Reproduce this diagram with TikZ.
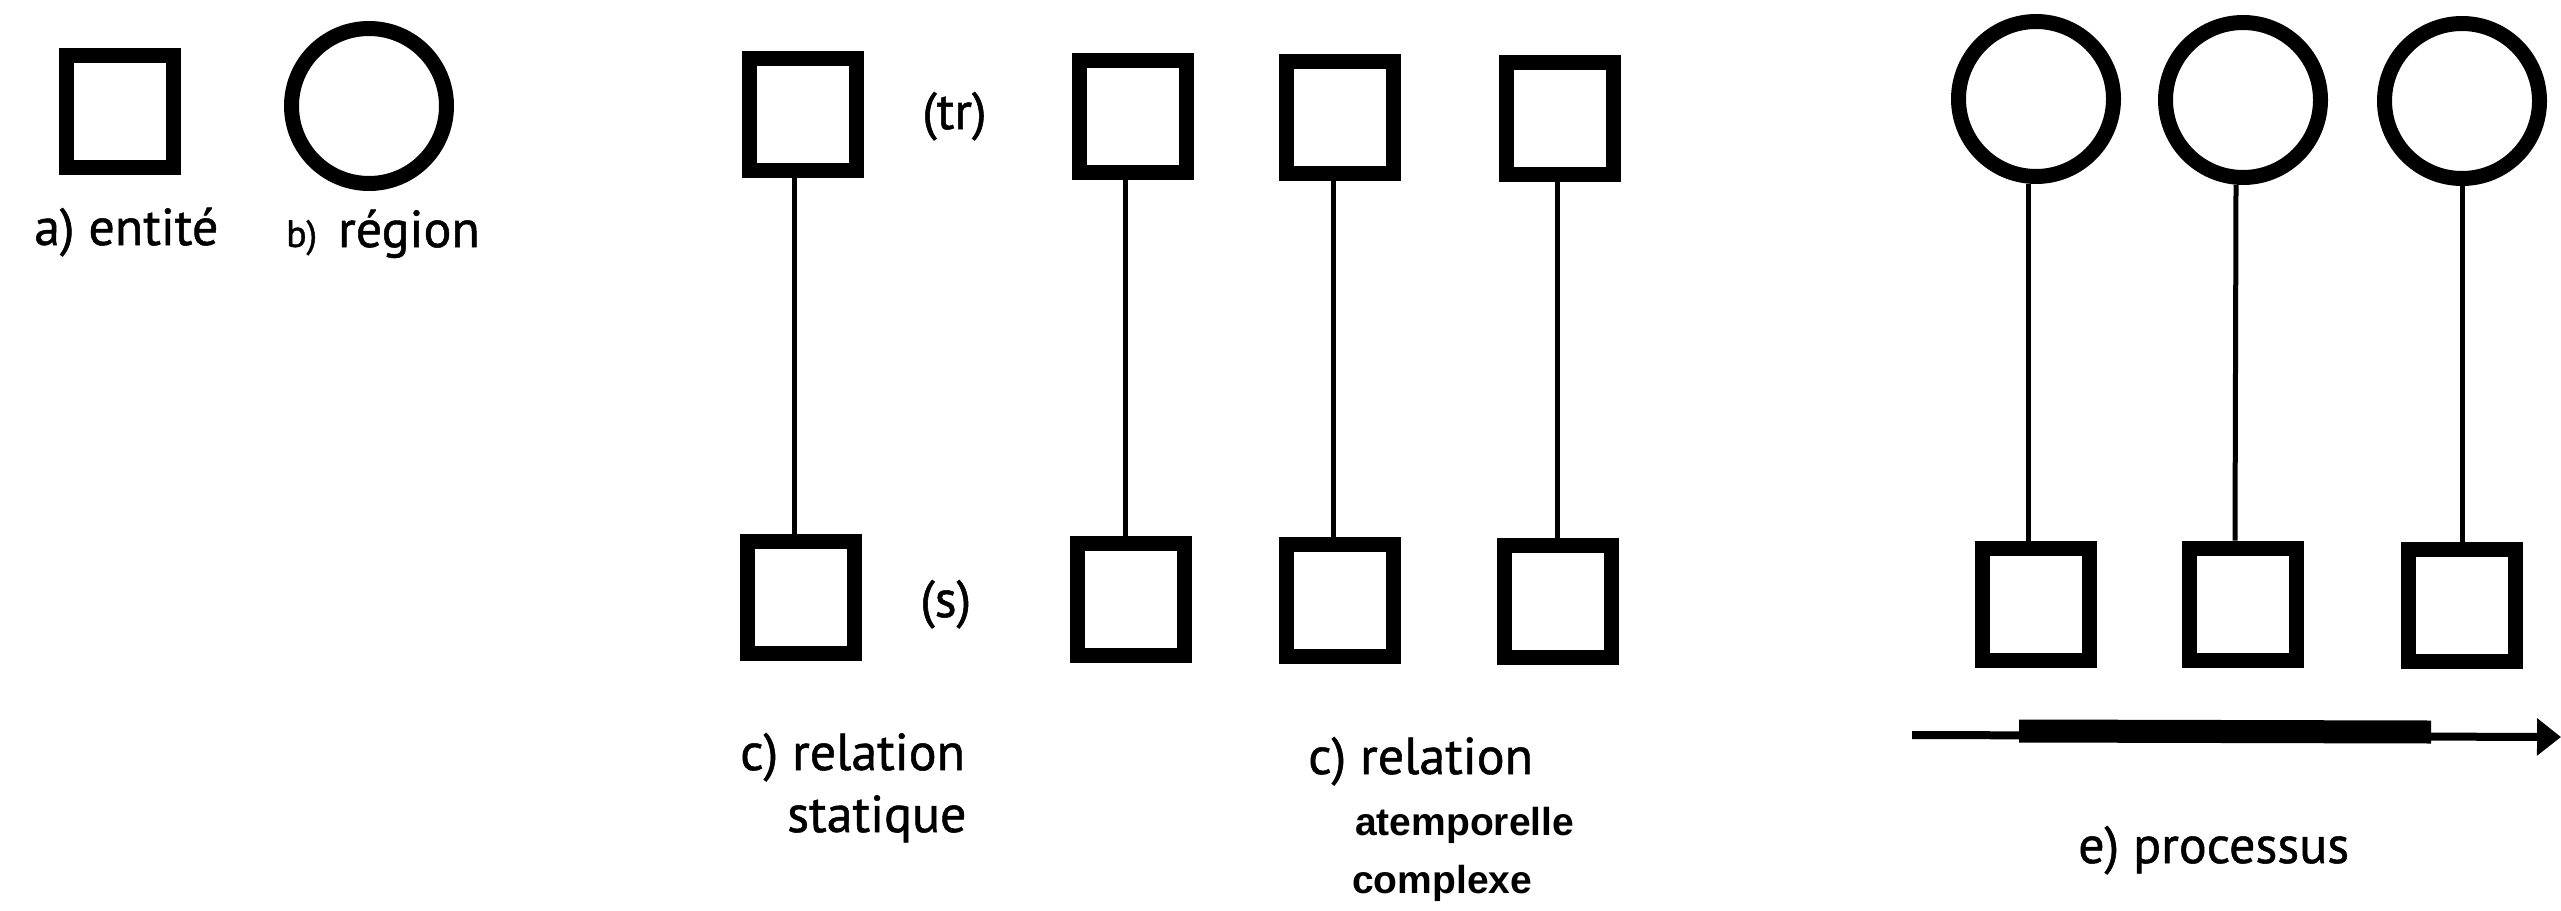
\documentclass[tikz,border=0pt]{standalone}
\usepackage{fontspec}
\setmainfont{PT Sans}
\newfontfamily\lab{PT Sans}[FakeBold=1]
\newfontfamily\helv{Liberation Sans}
\usetikzlibrary{arrows.meta}
\begin{document}
\begin{tikzpicture}[x=1pt,y=-1pt,
  ent/.style={draw,line width=15pt,minimum width=107pt,minimum height=112pt,inner sep=0pt},
  reg/.style={draw,circle,line width=15pt,minimum size=155pt,inner sep=0pt},
  link/.style={line width=5pt},
  lbl/.style={anchor=base west,inner sep=0pt,font=\lab\fontsize{52}{60}\selectfont},
  smallb/.style={anchor=base west,inner sep=0pt,font=\lab\fontsize{38}{44}\selectfont},
  sml/.style={anchor=base west,inner sep=0pt,font=\helv\bfseries\fontsize{39}{45}\selectfont}]
\useasboundingbox (0,0) rectangle (2561,910);

% a) entity, b) region
\node[ent] (a) at (120,111) {};
\node[reg] (b) at (369,106) {};
\node[lbl] (la) at (34,245) {a) entité};
\node[smallb] (lb1) at (286,247) {b)};
\node[lbl,anchor=base east] (lb2) at (480,247) {région};

% c) static relation
\node[ent] (c1t) at (803,114) {};
\node[ent] (c1b) at (801,597) {};
\draw[link] ([xshift=-9pt]c1t.south) -- ([xshift=-7pt]c1b.north);
\node[lbl] (tr) at (922,129) {(tr)};
\node[lbl] (s) at (920,617) {(s)};
\node[lbl] (lc1) at (740,770) {c) relation};
\node[lbl] (lc2) at (787,832) {statique};

% c) complex atemporal relation
\node[ent] (c2t) at (1133,116) {};
\node[ent] (c2b) at (1131,599) {};
\node[ent] (c3t) at (1340,117) {};
\node[ent] (c3b) at (1340,600) {};
\node[ent] (c4t) at (1560,118) {};
\node[ent] (c4b) at (1558,601) {};
\draw[link] ([xshift=-8pt]c2t.south) -- ([xshift=-6pt]c2b.north);
\draw[link] ([xshift=-7pt]c3t.south) -- ([xshift=-7pt]c3b.north);
\draw[link] ([xshift=-3pt]c4t.south) -- ([xshift=-1pt]c4b.north);
\node[lbl] (ld1) at (1308,774) {c) relation};
\node[sml] (ld2) at (1355,835) {atemporelle};
\node[sml] (ld3) at (1352,893) {complexe};

% e) process
\node[reg] (e1t) at (2036,99) {};
\node[reg] (e2t) at (2243,100) {};
\node[reg] (e3t) at (2462,101) {};
\node[ent] (e1b) at (2036,604) {};
\node[ent] (e2b) at (2243,604) {};
\node[ent] (e3b) at (2462,605) {};
\draw[link] ([xshift=-8pt]e1t.south) -- ([xshift=-8pt]e1b.north);
\draw[link] ([xshift=-7pt]e2t.south) -- ([xshift=-8pt]e2b.north);
\draw[link] (e3t.south) -- (e3b.north);

\coordinate (t0) at (1912,735);
\coordinate (t1) at (2561,737);
\coordinate (p0) at (2019,731);
\coordinate (p1) at (2431,732);
\draw[line width=8pt,-{Triangle[length=24pt,width=36pt]}] (t0) -- (t1);
\draw[line width=23pt] (p0) -- (p1);
\node[lbl] (le) at (2078,863) {e) processus};
\end{tikzpicture}
\end{document}
